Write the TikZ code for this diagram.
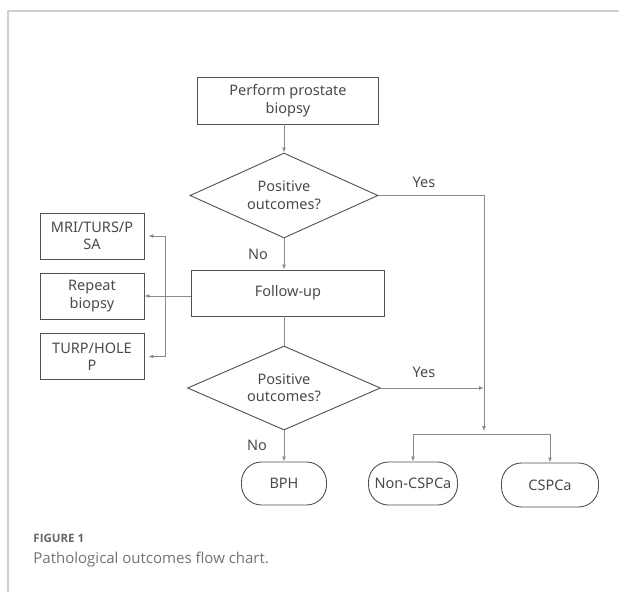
\documentclass[tikz,border=0pt]{standalone}
\usepackage{fontspec}
\setmainfont{Noto Sans}
\newfontfamily\capfont{Open Sans}
\usetikzlibrary{shapes.geometric,arrows.meta,positioning}
\definecolor{fline}{HTML}{8A8A8A}
\definecolor{fedge}{HTML}{505050}
\definecolor{ftext}{HTML}{4A4A4A}
\definecolor{fframe}{HTML}{CFCFCF}
\tikzset{
  every picture/.style={line width=0.9pt},
  fbox/.style={draw=fedge, rectangle, align=center, inner sep=0pt,
               text=ftext, font=\fontsize{14.5}{17.5}\selectfont},
  fdiam/.style={draw=fedge, diamond, aspect=2.2, inner sep=0pt, align=center,
                text=ftext, font=\fontsize{14.5}{17.5}\selectfont},
  fterm/.style={draw=fedge, rectangle, rounded corners=20pt, inner sep=0pt,
                text=ftext, font=\fontsize{14.5}{17.5}\selectfont},
  farrow/.style={draw=fline, -{Latex[length=5pt,width=4pt]}},
  fline/.style={draw=fline},
  flabel/.style={text=ftext, font=\fontsize{14.5}{17.5}\selectfont, inner sep=0pt},
}

\begin{document}
\begin{tikzpicture}[x=1pt,y=-1pt]
  \useasboundingbox (0,0) rectangle (619,592);
  % frame
  \draw[fframe, line width=1.2pt] (619,11) -- (8,11) -- (8,592);

  % main column
  \node[fbox, minimum width=181pt, minimum height=47pt] (bx) at (288,100.5)
       {Perform prostate\\biopsy};
  \node[fdiam, minimum width=188pt, minimum height=85pt] (dq1) at (284,195.5)
       {Positive\\outcomes?};
  \node[fbox, minimum width=193pt, minimum height=46pt] (fu) at (288,293)
       {Follow-up};
  \node[fdiam, minimum width=193pt, minimum height=84pt] (dq2) at (284,388)
       {Positive\\outcomes?};
  \node[fterm, minimum width=85pt, minimum height=43pt] (bph) at (284,483.5) {BPH};

  % left options
  \node[fbox, minimum width=104pt, minimum height=46pt] (mri) at (92,236)
       {MRI/TURS/P\\SA};
  \node[fbox, minimum width=104pt, minimum height=46pt] (rep) at (92,296)
       {Repeat\\biopsy};
  \node[fbox, minimum width=104pt, minimum height=46pt] (turp) at (92,356.5)
       {TURP/HOLE\\P};

  % outcomes
  \node[fterm, minimum width=89pt, minimum height=43pt] (ncs) at (413,483.5)
       {Non-CSPCa};
  \node[fterm, minimum width=97pt, minimum height=44pt] (cs) at (550,485)
       {CSPCa};

  \coordinate (yj) at (484,431);
  \coordinate (sp) at (484,434);
  \coordinate (bl) at (165,296);

  \draw[farrow] (dq1.north |- bx.south) -- (dq1.north);
  \draw[farrow] (dq1.south) -- (dq1.south |- fu.north);
  \draw[fline] (dq1.south |- fu.south) -- (dq2.north);
  \draw[farrow] (dq2.south) -- (bph.north);

  \draw[farrow] (dq1.east) -- (dq1.east -| yj) -- (yj);
  \draw[farrow] (dq2.east) -- (dq2.east -| yj);
  \draw[fline] (ncs.north |- sp) -- (cs.north |- sp);
  \draw[farrow] (ncs.north |- sp) -- (ncs.north);
  \draw[farrow] (cs.north |- sp) -- (cs.north);

  \draw[farrow] (fu.west |- bl) -- (rep.east |- bl);
  \draw[fline] (bl |- mri.east) -- (bl |- turp.east);
  \draw[farrow] (bl |- mri.east) -- ([xshift=4pt]mri.east);
  \draw[farrow] (bl |- turp.east) -- ([xshift=4pt]turp.east);

  % branch labels
  \node[flabel] (y1) at (424,182) {Yes};
  \node[flabel] (n1) at (258,254) {No};
  \node[flabel] (y2) at (424,372) {Yes};
  \node[flabel] (n2) at (257,445) {No};

  % caption
  \node[anchor=west, inner sep=0pt, text=black!60, font=\capfont\bfseries\fontsize{11.5}{13}\selectfont]
       (fig) at (33,538) {FIGURE 1};
  \node[anchor=west, inner sep=0pt, text=black!55, font=\capfont\fontsize{15}{17}\selectfont]
       (cap) at (33,560) {Pathological outcomes flow chart.};
\end{tikzpicture}
\end{document}
